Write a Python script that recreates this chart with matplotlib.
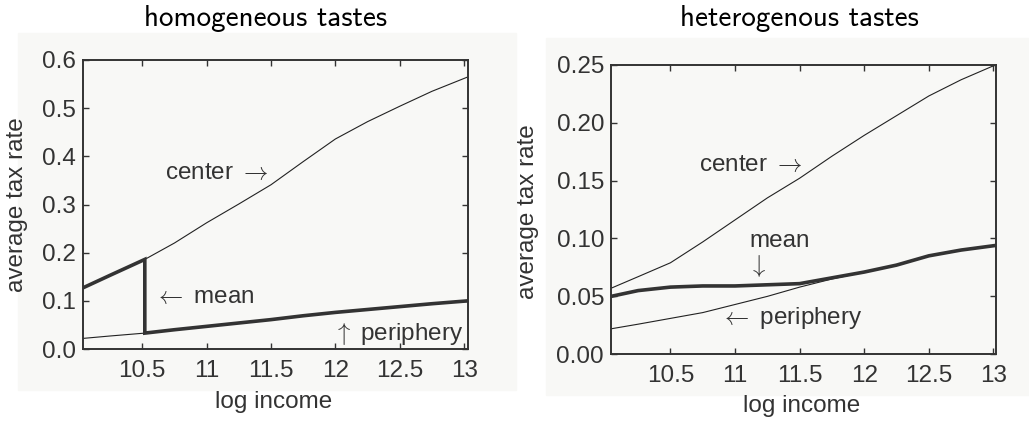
import numpy as np
import matplotlib.pyplot as plt
from matplotlib.patches import Rectangle

# values
# left panel: homogeneous tastes
x_hom = [10.04, 10.25, 10.52, 10.75, 11.0, 11.25, 11.5, 11.75, 12.0, 12.25, 12.5, 12.75, 13.03]
center_hom = [0.127, 0.153, 0.186, 0.220, 0.262, 0.301, 0.341, 0.389, 0.436, 0.472, 0.504, 0.535, 0.565]
periph_hom = [0.022, 0.027, 0.033, 0.040, 0.047, 0.054, 0.061, 0.069, 0.076, 0.082, 0.088, 0.094, 0.100]
jump_hom = 10.52   # mean switches from center to periphery here

# right panel: heterogenous tastes
x_het = [10.04, 10.25, 10.5, 10.75, 11.0, 11.25, 11.5, 11.75, 12.0, 12.25, 12.5, 12.75, 13.02]
center_het = [0.057, 0.067, 0.079, 0.097, 0.116, 0.135, 0.152, 0.171, 0.189, 0.206, 0.223, 0.237, 0.250]
mean_het = [0.050, 0.055, 0.058, 0.059, 0.059, 0.060, 0.061, 0.066, 0.071, 0.077, 0.085, 0.090, 0.094]
periph_het = [0.022, 0.026, 0.031, 0.036, 0.043, 0.050, 0.058, 0.065, 0.071, 0.077, 0.085, 0.090, 0.094]

xticks = [10.5, 11, 11.5, 12, 12.5, 13]
xticklabels = ['10.5', '11', '11.5', '12', '12.5', '13']

W, H = 1029, 424
bg = '#f8f8f6'
ink = '#333333'
fs = 17.5
plt.rcParams['font.family'] = ['Liberation Sans', 'DejaVu Sans']
plt.rcParams['mathtext.fontset'] = 'cm'

fig = plt.figure(figsize=(W / 100, H / 100), dpi=100)
fig.patch.set_facecolor('white')

# light grey panels behind each plot
fig.add_artist(Rectangle((18 / W, 1 - 390 / H), 498 / W, 357 / H,
                         transform=fig.transFigure, color=bg, zorder=-5))
fig.add_artist(Rectangle((546 / W, 1 - 395 / H), 483 / W, 357 / H,
                         transform=fig.transFigure, color=bg, zorder=-5))

ax1 = fig.add_axes([83 / W, 1 - 349 / H, 385 / W, 289 / H])
ax2 = fig.add_axes([611 / W, 1 - 354.3 / H, 385 / W, 289.6 / H])

for ax in (ax1, ax2):
    ax.set_facecolor(bg)
    for s in ax.spines.values():
        s.set_color(ink)
        s.set_linewidth(1.4)
    ax.tick_params(direction='in', length=4, width=1, color=ink, labelcolor=ink,
                   labelsize=fs, top=True, right=True)
    ax.tick_params(axis='x', pad=8)
    ax.tick_params(axis='y', pad=5)
    ax.set_xticks(xticks)
    ax.set_xticklabels(xticklabels)

# homogeneous tastes
xs = np.array(x_hom)
c = np.array(center_hom)
p = np.array(periph_hom)
ax1.plot(xs, c, color='#222222', lw=0.8)
ax1.plot(xs, p, color='#222222', lw=0.8)
c_jump = np.interp(jump_hom, xs, c)
p_jump = np.interp(jump_hom, xs, p)
lo = xs < jump_hom
hi = xs > jump_hom
mx = np.concatenate([xs[lo], [jump_hom, jump_hom], xs[hi]])
my = np.concatenate([c[lo], [c_jump, p_jump], p[hi]])
ax1.plot(mx, my, color=ink, lw=2.6, solid_joinstyle='miter')
ax1.set_xlim(10.04, 13.03)
ax1.set_ylim(0, 0.6)
ax1.set_yticks([0, 0.1, 0.2, 0.3, 0.4, 0.5, 0.6])
ax1.set_yticklabels(['0.0', '0.1', '0.2', '0.3', '0.4', '0.5', '0.6'])
ax1.text(10.68, 0.365, r'center $\rightarrow$', fontsize=fs, color=ink, va='center')
ax1.text(10.59, 0.108, r'$\leftarrow$ mean', fontsize=fs, color=ink, va='center')
ax1.text(11.98, 0.031, r'$\uparrow$ periphery', fontsize=fs, color=ink, va='center')

# heterogenous tastes
ax2.plot(x_het, center_het, color='#222222', lw=0.8)
ax2.plot(x_het, periph_het, color='#222222', lw=0.8)
ax2.plot(x_het, mean_het, color=ink, lw=2.6)
ax2.set_xlim(10.04, 13.02)
ax2.set_ylim(0, 0.25)
ax2.set_yticks([0, 0.05, 0.10, 0.15, 0.20, 0.25])
ax2.set_yticklabels(['0.00', '0.05', '0.10', '0.15', '0.20', '0.25'])
ax2.text(10.72, 0.163, r'center $\rightarrow$', fontsize=fs, color=ink, va='center')
ax2.text(11.11, 0.098, 'mean', fontsize=fs, color=ink, va='center')
ax2.text(11.17, 0.076, r'$\downarrow$', fontsize=fs, color=ink, va='center', ha='center')
ax2.text(10.88, 0.031, r'$\leftarrow$ periphery', fontsize=fs, color=ink, va='center')

# titles and axis labels
fig.text(266 / W, 1 - 18 / H, 'homogeneous tastes', fontsize=21, family='cmss10',
         ha='center', va='center')
fig.text(799 / W, 1 - 18 / H, 'heterogenous tastes', fontsize=21, family='cmss10',
         ha='center', va='center')
fig.text(274 / W, 1 - 402 / H, 'log income', fontsize=fs, color=ink, ha='center', va='center')
fig.text(802 / W, 1 - 406 / H, 'log income', fontsize=fs, color=ink, ha='center', va='center')
fig.text(17 / W, 1 - 205 / H, 'average tax rate', fontsize=fs, color=ink, rotation=90,
         ha='center', va='center')
fig.text(528 / W, 1 - 212 / H, 'average tax rate', fontsize=fs, color=ink, rotation=90,
         ha='center', va='center')

fig.savefig('out.png', dpi=100, facecolor='white')
